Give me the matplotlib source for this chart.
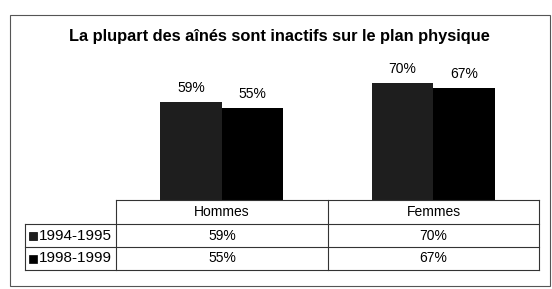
import matplotlib
matplotlib.use("Agg")
from matplotlib import pyplot as plt
from matplotlib.lines import Line2D
from matplotlib.patches import Rectangle
import numpy as np

plt.rcParams['font.family'] = ['Liberation Sans', 'DejaVu Sans']

titre = "La plupart des aînés sont inactifs sur le plan physique"
categories = ["Hommes", "Femmes"]
series = ["1994-1995", "1998-1999"]
valeurs_9495 = [59, 70]
valeurs_9899 = [55, 67]
couleurs = ["#1e1e1e", "#000000"]

W, H = 552, 289
fig = plt.figure(figsize=(W / 100, H / 100), dpi=100)

def fx(x):
    return x / W

def fy(y):
    return 1 - y / H

def ligne(x0, y0, x1, y1, c="#333333", lw=0.8):
    fig.add_artist(Line2D([fx(x0), fx(x1)], [fy(y0), fy(y1)], color=c, lw=lw))

# cadre exterieur
fig.add_artist(Rectangle((fx(10), fy(286)), fx(540), 271 / H, fill=False,
                         edgecolor="#555555", lw=0.8))

fig.text(fx(279), fy(37), titre, ha="center", va="center", fontsize=11.8,
         fontweight="bold")

ax = fig.add_axes([fx(116), fy(200), fx(423), 140 / H])
x = np.arange(len(categories))
largeur = 0.29
donnees = [valeurs_9495, valeurs_9899]
for i, vals in enumerate(donnees):
    pos = x + (i - 0.5) * largeur
    ax.bar(pos, vals, largeur, color=couleurs[i], edgecolor="none")
    for p, v in zip(pos, vals):
        ax.annotate("%d%%" % v, (p, v), xytext=(0, 10), textcoords="offset points",
                    ha="center", va="center", fontsize=10)
ax.set_xlim(-0.5, len(categories) - 0.5)
ax.set_ylim(0, 84)
ax.axis("off")

# tableau de donnees
ligne(116, 200, 539, 200)
for y in (224, 247, 270):
    ligne(25, y, 539, y)
ligne(25, 224, 25, 270)
for xv in (116, 328, 539):
    ligne(xv, 200, xv, 270)

centres_col = [222, 433.5]
for c, nom in zip(centres_col, categories):
    fig.text(fx(c), fy(212), nom, ha="center", va="center", fontsize=10)

rows_y = [235.5, 258.5]
for i, (nom, vals) in enumerate(zip(series, donnees)):
    ry = rows_y[i]
    fig.add_artist(Rectangle((fx(29), fy(ry + 4)), 8 / W, 8 / H,
                             facecolor=couleurs[i], edgecolor="#000000", lw=0.5))
    fig.text(fx(38.5), fy(ry), nom, ha="left", va="center", fontsize=11)
    for c, v in zip(centres_col, vals):
        fig.text(fx(c), fy(ry), "%d%%" % v, ha="center", va="center", fontsize=10)

fig.savefig("out.png", dpi=100)
